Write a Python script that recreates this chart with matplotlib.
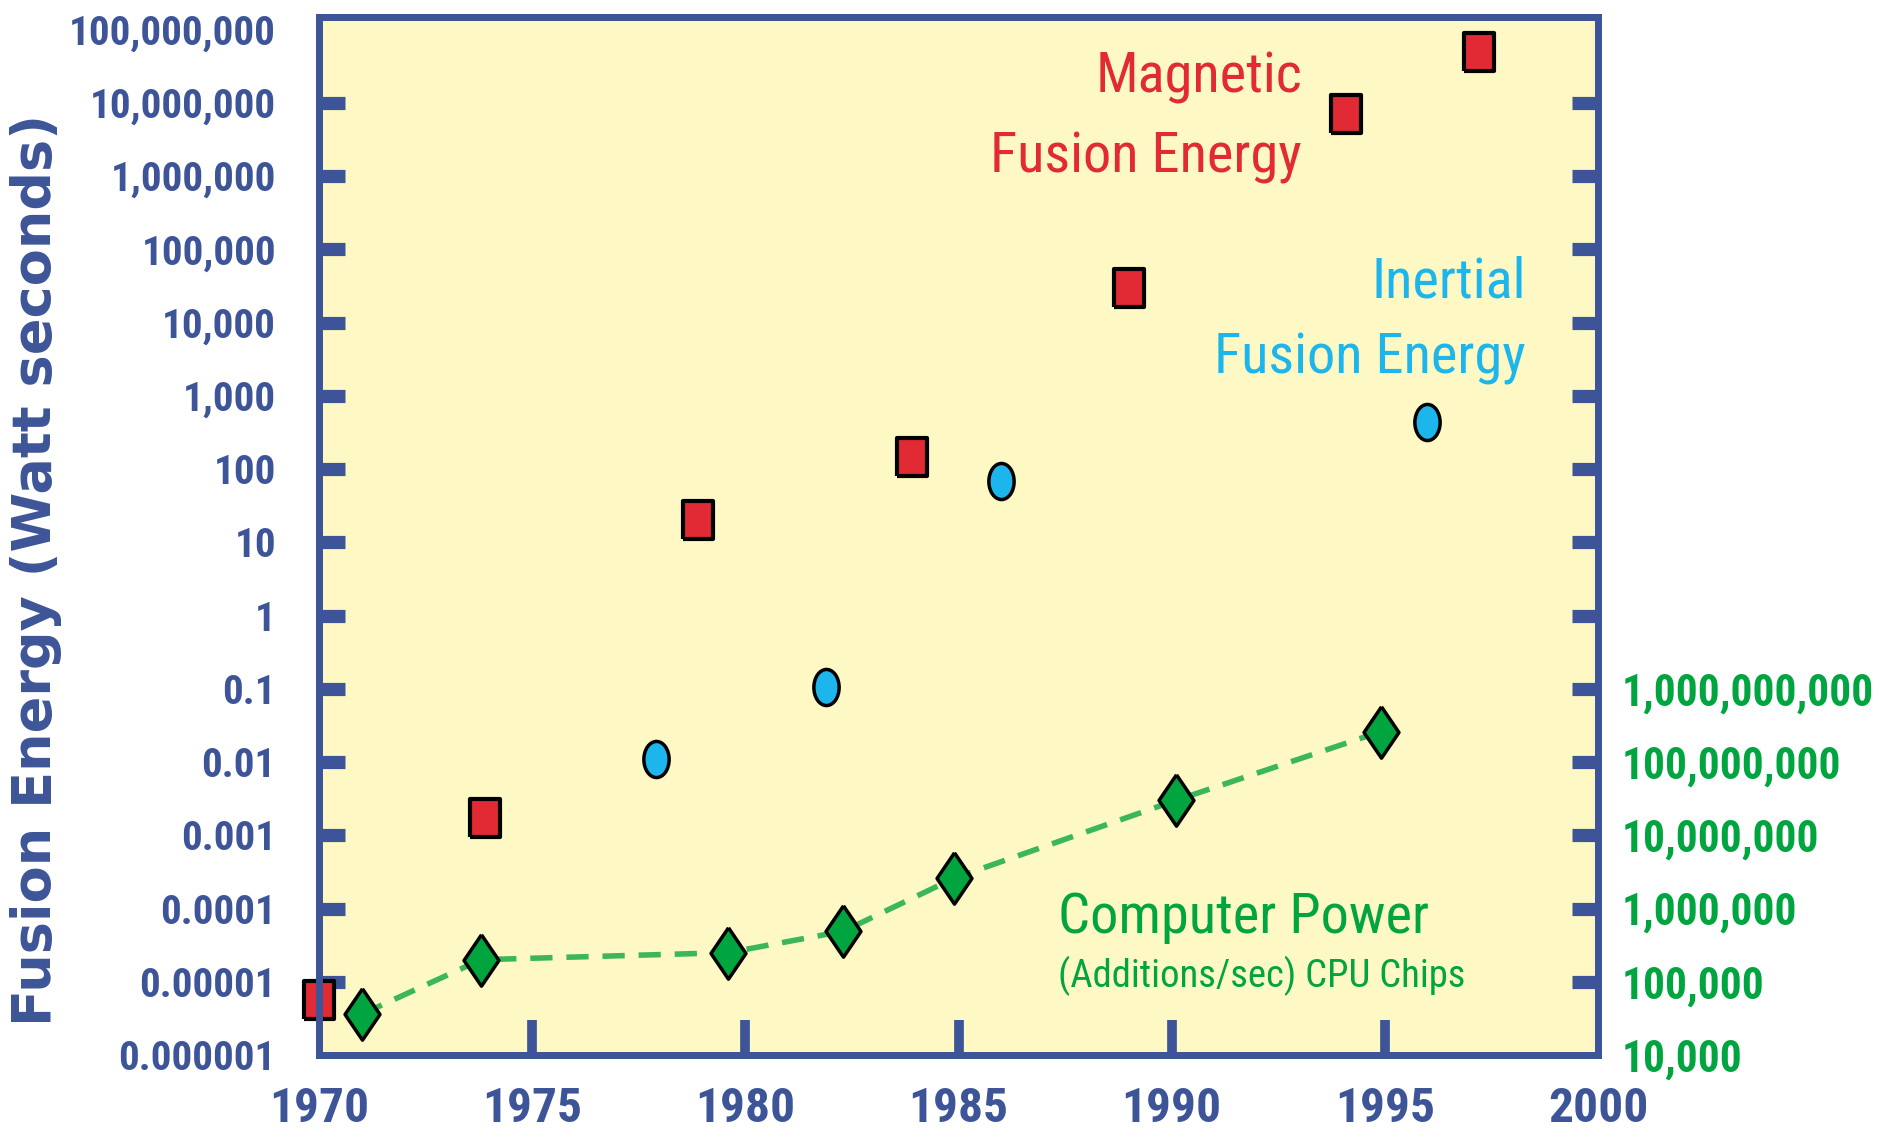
import numpy as np
import matplotlib
matplotlib.use('Agg')
import matplotlib.pyplot as plt
from matplotlib import font_manager as fm
from matplotlib.path import Path
from matplotlib.ticker import FixedLocator, FixedFormatter, NullLocator

# Magnetic fusion energy results (Watt seconds)
mfe_years = [1970.0, 1973.9, 1978.9, 1983.9, 1989.0, 1994.1, 1997.2]
mfe_energy = [5.7e-6, 1.7e-3, 20, 145, 3.0e4, 7.1e6, 5.0e7]

# Inertial fusion energy results (Watt seconds)
ife_years = [1977.9, 1981.9, 1986.0, 1996.0]
ife_energy = [0.011, 0.105, 69, 440]

# Computer power, additions/sec of CPU chips (right axis)
cpu_years = [1971.0, 1973.8, 1979.6, 1982.3, 1984.9, 1990.1, 1994.9]
cpu_adds = [3.6e4, 2.0e5, 2.5e5, 4.9e5, 2.6e6, 3.0e7, 2.6e8]

x_labels = ['1970', '1975', '1980', '1985', '1990', '1995', '2000']
left_labels = ['0.000001', '0.00001', '0.0001', '0.001', '0.01', '0.1', '1', '10',
               '100', '1,000', '10,000', '100,000', '1,000,000', '10,000,000',
               '100,000,000']
right_labels = ['10,000', '100,000', '1,000,000', '10,000,000', '100,000,000',
                '1,000,000,000']

BLUE = '#3d5598'
RED = '#e12a33'
CYAN = '#1cb5ec'
GREEN = '#00a540'
BG = '#fef9c4'

# pick the narrowest sans family that is installed
fonts = fm.fontManager.ttflist
names = {f.name for f in fonts}
narrow = 'Liberation Sans'
stretch = 'normal'
for cand in ['Liberation Sans Narrow', 'Roboto Condensed', 'Open Sans Condensed',
             'Noto Sans Condensed', 'DejaVu Sans Condensed']:
    if cand in names:
        narrow = cand
        break
else:
    cond = [f for f in fonts if f.stretch in ('condensed', 'semi-condensed', 'extra-condensed')]
    if cond:
        narrow = cond[0].name
        stretch = cond[0].stretch
plt.rcParams['font.family'] = [narrow, 'DejaVu Sans']
plt.rcParams['font.stretch'] = stretch

fig = plt.figure(figsize=(18.82, 11.37), dpi=100)
ax = fig.add_axes([319 / 1882, 1 - 1055 / 1137, 1279 / 1882, 1038.5 / 1137])
ax.set_facecolor(BG)
ax2 = ax.twinx()

ymin, ymax = 1e-6, 10 ** 8.18
ax.set_yscale('log')
ax.set_ylim(ymin, ymax)
ax2.set_yscale('log')
ax2.set_ylim(ymin * 1e10, ymax * 1e10)
ax.set_xlim(1970, 2000)

# marker shapes
rect = [(-0.75, -1), (0.75, -1), (0.75, 1), (-0.75, 1), (-0.75, -1)]
circ = Path.unit_circle()
ellipse = Path(circ.vertices * np.array([0.7, 1.0]), circ.codes)
diamond = [(0, 1), (0.68, 0), (0, -1), (-0.68, 0), (0, 1)]

ax.plot(mfe_years, mfe_energy, ls='none', marker=rect, ms=28, mfc=RED, mec='black',
        mew=3, clip_on=False, zorder=5)
ax.plot(ife_years, ife_energy, ls='none', marker=ellipse, ms=26, mfc=CYAN, mec='black',
        mew=2.5, clip_on=False, zorder=5)
ax2.plot(cpu_years, cpu_adds, color='#3bb75a', lw=4, ls=(0, (4, 2.5)), zorder=3)
ax2.plot(cpu_years, cpu_adds, ls='none', marker=diamond, ms=37, mfc=GREEN, mec='black',
         mew=2.5, clip_on=False, zorder=5)

# ticks
x_ticks = [int(s) for s in x_labels]
ax.xaxis.set_major_locator(FixedLocator(x_ticks))
ax.xaxis.set_major_formatter(FixedFormatter(x_labels))
left_ticks = [10.0 ** k for k in range(-6, -6 + len(left_labels))]
ax.yaxis.set_major_locator(FixedLocator(left_ticks))
ax.yaxis.set_major_formatter(FixedFormatter(left_labels))
ax.yaxis.set_minor_locator(NullLocator())
right_ticks = [10.0 ** k for k in range(4, 19)]
ax2.yaxis.set_major_locator(FixedLocator(right_ticks))
ax2.yaxis.set_major_formatter(FixedFormatter(right_labels + [''] * (len(right_ticks) - len(right_labels))))
ax2.yaxis.set_minor_locator(NullLocator())

ax.tick_params(axis='x', direction='in', length=25, width=7, color=BLUE, pad=22,
               labelsize=40, labelcolor=BLUE, top=False)
ax.tick_params(axis='y', direction='in', length=19, width=9.5, color=BLUE, pad=31,
               labelsize=33, labelcolor=BLUE, right=False)
ax2.tick_params(axis='y', direction='in', length=19, width=9.5, color=BLUE, pad=17,
                labelsize=35, labelcolor=GREEN, left=False)

# hide tick marks sitting on the frame
for t in (ax.xaxis.get_major_ticks()[0], ax.xaxis.get_major_ticks()[-1],
          ax.yaxis.get_major_ticks()[0], ax.yaxis.get_major_ticks()[-1],
          ax2.yaxis.get_major_ticks()[0], ax2.yaxis.get_major_ticks()[-1]):
    t.tick1line.set_visible(False)
    t.tick2line.set_visible(False)

for a in (ax, ax2):
    for sp in a.spines.values():
        sp.set_color(BLUE)
        sp.set_linewidth(5)

fig.text(36 / 1882, 1 - 570 / 1137, 'Fusion Energy (Watt seconds)', rotation=90,
         ha='center', va='center', fontsize=39, fontweight='bold', color=BLUE,
         family='DejaVu Sans')

def label(x, y, s, color, size, ha):
    return fig.text(x / 1882, 1 - y / 1137, s, color=color, fontsize=size, ha=ha,
                    va='baseline')

notes = [label(1302, 92, 'Magnetic', RED, 46, 'right'),
         label(1302, 172, 'Fusion Energy', RED, 46, 'right'),
         label(1526, 297, 'Inertial', CYAN, 46, 'right'),
         label(1526, 373, 'Fusion Energy', CYAN, 46, 'right'),
         label(1058, 933, 'Computer Power', GREEN, 46, 'left')]
sub = label(1058, 987, '(Additions/sec) CPU Chips', GREEN, 31, 'left')


def bold_ticks():
    for lab in ax.get_xticklabels() + ax.get_yticklabels() + ax2.get_yticklabels():
        lab.set_fontweight('bold')


# scale font sizes so the widths match the reference, whatever font was found
bold_ticks()
fig.canvas.draw()
r = fig.canvas.get_renderer()


def width(t):
    return t.get_window_extent(r).width


k = 311 / width(notes[1])
for t in notes:
    t.set_fontsize(t.get_fontsize() * k)
sub.set_fontsize(sub.get_fontsize() * 407 / width(sub))
ax.tick_params(axis='x', labelsize=40 * 100 / width(ax.get_xticklabels()[-1]))
ax.tick_params(axis='y', labelsize=33 * 207 / width(ax.get_yticklabels()[-1]))
ax2.tick_params(axis='y', labelsize=35 * 252 / width(ax2.get_yticklabels()[5]))
bold_ticks()

fig.savefig('out.png', dpi=100)
